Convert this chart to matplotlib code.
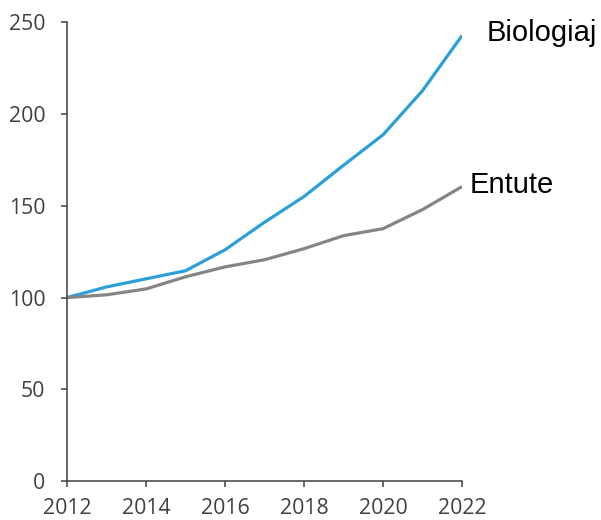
import matplotlib
matplotlib.use("Agg")
import matplotlib.pyplot as plt

years = [2012, 2013, 2014, 2015, 2016, 2017, 2018, 2019, 2020, 2021, 2022]
biologiaj = [100, 105.8, 110.2, 114.6, 126, 141, 155, 172, 188.6, 212.6, 242.6]
entute = [100, 101.5, 104.7, 111.3, 116.7, 120.6, 126.6, 133.7, 137.5, 147.9, 160.4]
xticks = [2012, 2014, 2016, 2018, 2020, 2022]
yticks = [0, 50, 100, 150, 200, 250]

fig = plt.figure(figsize=(6.01, 5.20), dpi=100)
ax = fig.add_axes([67/601, 1-481.3/520, (462-67)/601, (481.3-22)/520])

ax.plot(years, biologiaj, color="#2a9fd8", lw=2.3, solid_capstyle="butt")
ax.plot(years, entute, color="#858585", lw=2.3, solid_capstyle="butt")

ax.set_xlim(2012, 2022)
ax.set_ylim(0, 250)
ax.set_xticks(xticks)
ax.set_yticks(yticks)
for s in ["top", "right"]:
    ax.spines[s].set_visible(False)
for s in ["left", "bottom"]:
    ax.spines[s].set_color("#404040")
    ax.spines[s].set_linewidth(1.1)
ax.tick_params(axis="both", direction="out", length=4.5, width=1.1, color="#404040",
               labelcolor="#404040", labelsize=15.3)
ax.tick_params(axis="y", pad=11)
ax.tick_params(axis="x", pad=7.5)
for lbl in ax.get_xticklabels() + ax.get_yticklabels():
    lbl.set_family("Open Sans")

ax.text(2022.63, 244, "Biologiaj", fontsize=21, family="Liberation Sans",
        va="center", ha="left", clip_on=False)
ax.text(2022.2, 161.4, "Entute", fontsize=21, family="Liberation Sans",
        va="center", ha="left", clip_on=False)

fig.savefig("out.png", dpi=100)
